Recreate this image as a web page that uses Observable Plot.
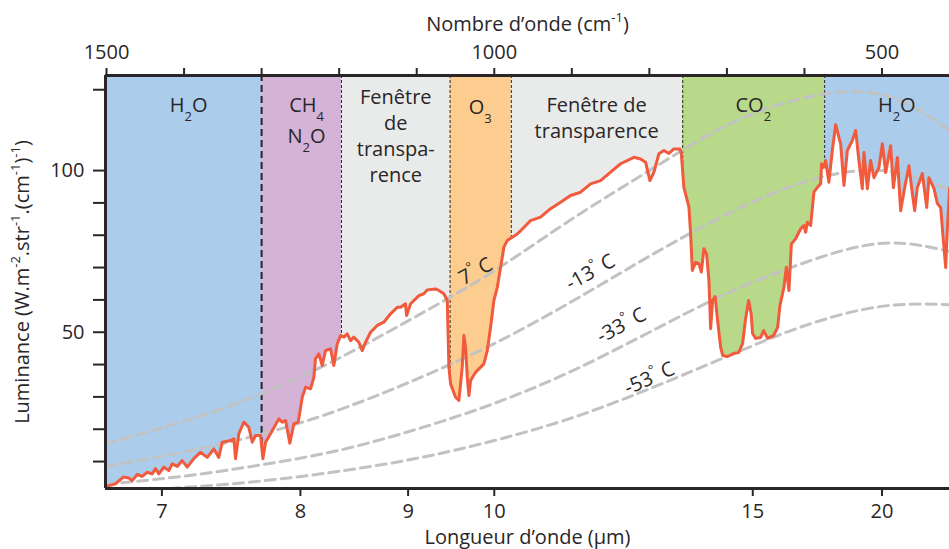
<!DOCTYPE html>
<html><head><meta charset="utf-8">
<script src="https://cdn.jsdelivr.net/npm/d3@7"></script>
<script src="https://cdn.jsdelivr.net/npm/@observablehq/plot@0.6"></script>
<style>
html,body{margin:0;padding:0;background:#fff;}
#chart svg{display:block;}
</style></head><body><div id="chart"></div>
<script>
// Measured spectrum: [wavenumber cm-1, luminance]
const spectrum = [
[1501.3,2.2],[1499.1,2.4],[1488.4,3.1],[1478.5,5.2],[1471.2,4.9],[1466.9,4.1],[1460.4,6.0],[1454.0,5.4],[1447.5,6.7],[1441.1,6.2],
[1436.8,7.8],[1432.5,6.2],[1426.1,8.3],[1419.7,7.2],[1415.3,9.3],[1408.8,8.5],[1402.4,10.3],[1395.9,8.3],[1387.4,10.9],[1378.8,12.9],
[1370.1,11.3],[1361.6,13.9],[1355.2,11.3],[1350.8,16.0],[1340.1,16.5],[1335.8,17.0],[1333.6,10.9],[1329.4,18.6],[1322.9,22.2],[1316.5,20.6],
[1312.1,16.0],[1307.8,18.1],[1301.4,18.1],[1298.4,10.9],[1294.9,16.0],[1288.5,18.6],[1277.8,23.2],[1273.4,22.2],[1269.1,22.7],[1263.6,15.7],
[1258.4,21.7],[1252.8,22.2],[1247.6,29.9],[1243.3,33.0],[1236.9,32.5],[1232.6,36.1],[1230.5,41.8],[1226.2,43.3],[1221.8,39.7],[1217.6,44.3],
[1211.1,44.9],[1206.9,39.7],[1202.5,46.4],[1198.2,49.0],[1194.0,48.5],[1189.6,49.5],[1185.3,47.4],[1181.1,48.5],[1174.6,46.9],[1170.2,44.3],
[1166.0,46.9],[1159.5,50.0],[1150.9,52.1],[1142.4,53.1],[1133.7,55.7],[1125.1,57.7],[1120.8,57.7],[1114.4,58.8],[1113.1,55.2],[1107.9,58.8],
[1097.2,61.3],[1090.8,61.9],[1086.4,63.1],[1075.7,63.4],[1071.4,62.9],[1065.0,61.9],[1060.6,59.8],[1058.5,39.2],[1056.3,34.0],[1049.9,29.9],
[1045.6,28.9],[1041.3,39.2],[1039.2,49.0],[1037.0,45.4],[1034.8,36.1],[1032.7,30.4],[1030.5,35.1],[1024.1,37.6],[1013.4,40.2],[1009.0,44.3],
[1004.8,51.5],[1000.5,59.8],[996.1,63.9],[989.7,73.2],[987.6,76.3],[983.2,78.4],[976.8,79.4],[970.3,80.4],[966.1,81.4],[953.2,84.5],
[940.3,85.6],[927.4,88.2],[914.5,90.2],[901.6,92.3],[888.7,93.3],[875.8,95.9],[862.9,96.9],[850.0,99.5],[837.1,102.1],[819.9,104.1],
[811.3,103.6],[804.9,102.6],[799.3,96.9],[794.1,99.5],[787.7,105.2],[781.3,106.2],[774.8,105.3],[768.4,106.7],[760.6,106.7],[758.8,105.2],
[755.5,94.8],[749.0,88.7],[746.8,80.4],[744.6,69.1],[740.4,71.6],[736.1,71.2],[733.0,68.6],[729.7,75.8],[726.2,74.2],[723.2,66.0],
[721.0,51.1],[718.5,59.8],[715.2,61.0],[712.0,53.6],[708.1,45.4],[705.5,42.8],[699.1,42.5],[691.4,43.4],[684.9,43.7],[679.8,46.5],
[675.9,54.2],[672.0,59.8],[668.8,55.8],[666.9,49.6],[663.0,48.1],[656.5,48.4],[652.7,50.5],[647.5,48.1],[639.8,49.0],[634.6,51.5],
[631.6,58.3],[626.5,63.9],[623.4,70.1],[620.0,62.9],[616.9,77.3],[611.4,78.9],[604.9,82.0],[600.7,83.0],[598.5,80.9],[596.3,84.0],
[592.1,83.0],[589.9,88.2],[587.8,93.3],[583.4,94.8],[579.2,95.9],[577.9,102.1],[574.9,101.0],[572.7,103.1],[568.5,96.4],[564.1,106.2],
[559.8,114.2],[555.6,110.3],[553.4,108.3],[549.1,95.4],[544.7,106.2],[538.3,109.3],[534.0,112.4],[529.8,103.1],[525.4,94.4],[523.3,105.6],
[518.9,94.4],[514.7,103.1],[510.4,97.8],[504.0,100.9],[499.6,108.3],[495.3,99.4],[488.9,107.7],[485.4,94.7],[480.2,104.0],[476.0,87.6],
[470.8,94.7],[465.3,101.5],[460.9,92.9],[457.9,87.6],[454.5,94.7],[448.0,99.1],[442.4,88.6],[439.5,97.8],[433.0,94.4],[428.6,89.8],
[424.4,88.6],[420.9,78.4],[417.9,70.0],[415.7,82.4],[412.8,94.7]
];

// Blackbody reference curves
const bbWavenumber = [1501, 1400, 1300, 1200, 1100, 1000, 900, 800, 700, 600, 500, 413];
const bbPlus7  = [15.5, 22.5, 31, 42, 55, 69, 85, 100, 114, 122.5, 123.5, 112.5];
const bbMinus13 = [8.5, 13, 18.5, 26, 35.5, 46.5, 59.5, 73.5, 86.5, 96.5, 100, 94];
const bbMinus33 = [3, 5.5, 9, 13.5, 20, 28, 38, 50, 62, 71.5, 77.5, 75];
const bbMinus53 = [0.5, 2, 4, 7, 11, 16.5, 23.5, 32.5, 42.5, 52, 58, 58.5];
const bbNames = ["7^{°} C", "-13^{°} C", "-33^{°} C", "-53^{°} C"];

// Absorption bands
const bandEdges = [1501.3, 1300, 1197, 1057, 978, 757, 574, 413];
const bandNames = ["H_{2}O", "CH_{4}\nN_{2}O", "Fenêtre\nde\ntranspa-\nrence", "O_{3}", "Fenêtre de\ntransparence", "CO_{2}", "H_{2}O"];
const bandColors = ["#abcdeb", "#d4b3d6", "#e9ebea", "#fccd8e", "#e9ebea", "#b9d98a", "#abcdeb"];

// Axis ticks
const topTicks = [1500, 1400, 1300, 1200, 1100, 1000, 900, 800, 700, 600, 500];
const topLabels = [1500, 1000, 500];
const wavelengthTicks = [7, 8, 9, 10, 15, 20];
const yTicks = [10, 20, 30, 40, 50, 60, 70, 80, 90, 100, 125];
const yLabels = [50, 100];

// ---- layout ----
const xDomain = [1501.3, 413];
const yMin = 1.67, yMax = 129.4;
const ink = "#2a2627";
const font = "'Open Sans', 'Noto Sans', sans-serif";

const curve = spectrum.map(([w, v]) => ({w, v}));
const bb = [bbPlus7, bbMinus13, bbMinus33, bbMinus53].map((vals, k) =>
  bbWavenumber.map((w, i) => ({w, v: vals[i], k}))).flat();
const bands = bandColors.map((c, i) => ({x1: bandEdges[i], x2: bandEdges[i + 1], c}));
const bandLabelPos = [
  {w: 1394, v: 123.7}, {w: 1242, v: 124.8}, {w: 1127, v: 126.3}, {w: 1018, v: 123.2},
  {w: 868, v: 123.7}, {w: 666, v: 123.7}, {w: 481, v: 123.7}
];
const bandLabels = bandNames.map((t, i) => ({t, ...bandLabelPos[i]}));
const bbLabelPos = [
  {w: 1024, v: 68.8, a: -29}, {w: 876, v: 68.5, a: -29}, {w: 836, v: 52.1, a: -28}, {w: 800, v: 35.7, a: -24}
];
const bbLabels = bbNames.map((t, i) => ({t, ...bbLabelPos[i]}));

const plot = Plot.plot({
  width: 949, height: 549,
  marginLeft: 105, marginRight: 0, marginTop: 75, marginBottom: 61,
  x: {domain: xDomain, label: null},
  y: {domain: [yMin, yMax], label: null},
  color: {type: "identity"},
  style: {fontFamily: font, fontSize: "20px", color: ink, background: "#fff"},
  marks: [
    Plot.rect(bands, {x1: "x1", x2: "x2", y1: () => yMin, y2: () => yMax, fill: "c"}),
    Plot.ruleX([bandEdges[1]], {x: d => d, y1: () => yMin, y2: () => yMax, stroke: ink, strokeWidth: 2, strokeDasharray: "7,4"}),
    Plot.ruleX(bandEdges.slice(2, 7), {x: d => d, y1: () => yMin, y2: () => yMax, stroke: ink, strokeWidth: 1, strokeDasharray: "3,2"}),
    Plot.areaY(curve, {x: "w", y1: () => yMin, y2: "v", fill: "#ffffff"}),
    Plot.line(bb, {x: "w", y: "v", z: "k", curve: "natural", stroke: "#c2c2c2", strokeWidth: 3, strokeDasharray: "10,6", clip: true}),
    Plot.line(curve, {x: "w", y: "v", stroke: "#f15a3c", strokeWidth: 3, strokeLinejoin: "round"}),
    Plot.text(bbLabels, {x: "w", y: "v", text: "t", rotate: "a", fontSize: 20, fill: ink}),
    Plot.text(bandLabels.filter((d, i) => i !== 1), {x: "w", y: "v", text: "t", lineAnchor: "top", lineHeight: 1.3, fontSize: 20, fill: ink}),
    Plot.text([bandLabels[1]], {x: "w", y: "v", text: "t", lineAnchor: "top", lineHeight: 1.55, fontSize: 20, fill: ink}),
    Plot.ruleY([yMin, yMax], {stroke: ink, strokeWidth: 3}),
    Plot.ruleX([xDomain[0]], {stroke: ink, strokeWidth: 3}),
    Plot.axisX(topTicks, {anchor: "top", tickSize: 8, tickPadding: 9, strokeWidth: 2, stroke: ink, fill: ink, fontSize: 20, label: null,
      tickFormat: d => topLabels.includes(d) ? String(d) : ""}),
    Plot.axisX(wavelengthTicks.map(l => 10000 / l), {anchor: "bottom", tickSize: 8, tickPadding: 7, strokeWidth: 2, stroke: ink, fill: ink, fontSize: 20, label: null,
      tickFormat: d => String(Math.round(10000 / d))}),
    Plot.axisY(yTicks, {anchor: "left", tickSize: 12, tickPadding: 9, strokeWidth: 2, stroke: ink, fill: ink, fontSize: 20, label: null,
      tickFormat: d => yLabels.includes(d) ? String(d) : ""}),
    Plot.text(["Nombre d’onde (cm^{-1})"], {frameAnchor: "top", lineAnchor: "middle", textAnchor: "middle", dy: -51, fontSize: 20, fill: ink}),
    Plot.text(["Longueur d’onde (µm)"], {frameAnchor: "bottom", lineAnchor: "middle", textAnchor: "middle", dy: 49, fontSize: 20, fill: ink}),
    Plot.text(["Luminance (W.m^{-2}.str^{-1}.(cm^{-1})^{-1})"], {frameAnchor: "left", lineAnchor: "middle", textAnchor: "middle", dx: -83, dy: 0, rotate: -90, fontSize: 20, fill: ink})
  ]
});

// Rich text: _{..} subscript, ^{..} superscript
function richify(root) {
  const ns = "http://www.w3.org/2000/svg";
  root.querySelectorAll("text, tspan").forEach(el => {
    if (el.children.length) return;
    const s = el.textContent;
    if (!/[_^]\{/.test(s)) return;
    el.textContent = "";
    const re = /([_^])\{([^}]*)\}|([^_^]+|[_^])/g;
    let m;
    while ((m = re.exec(s))) {
      if (m[3] !== undefined) el.appendChild(document.createTextNode(m[3]));
      else {
        const t = document.createElementNS(ns, "tspan");
        t.setAttribute("font-size", "65%");
        t.setAttribute("baseline-shift", m[1] === "_" ? "sub" : "super");
        t.textContent = m[2];
        el.appendChild(t);
      }
    }
  });
}
richify(plot);
document.getElementById("chart").appendChild(plot);
</script>
</body></html>
